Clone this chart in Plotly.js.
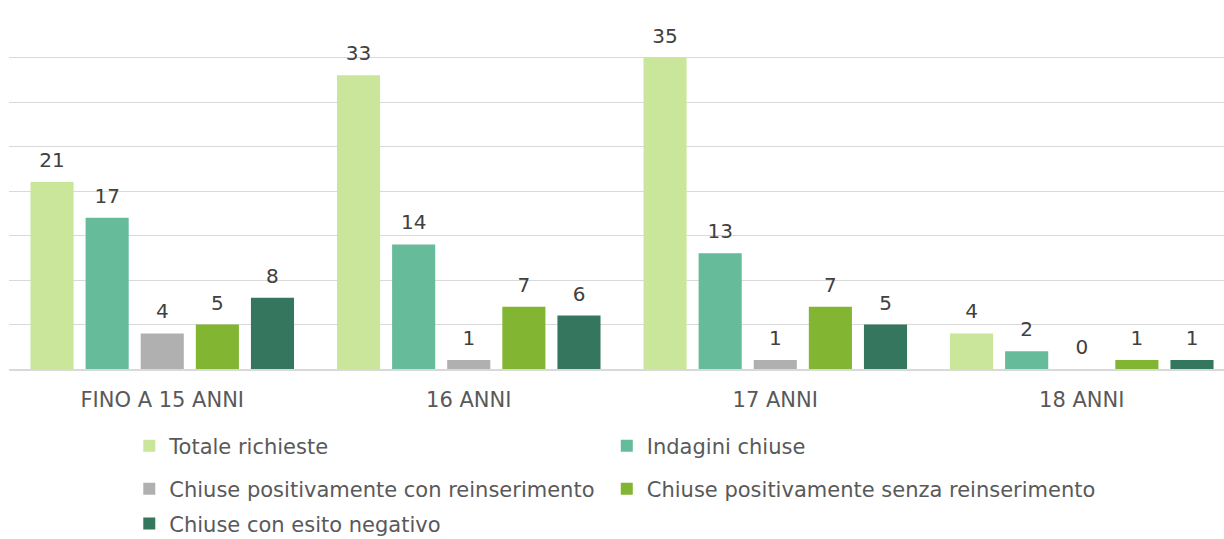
<!DOCTYPE html>
<html>
<head>
<meta charset="utf-8">
<script src="https://cdn.plot.ly/plotly-3.0.1.min.js"></script>
<style>
  body { margin: 0; background: #fff; }
  #plotArea { width: 1224px; height: 539px; }
</style>
</head>
<body>
<div id="plotArea"></div>
<script>
// fasce d'eta
var categories = ["FINO A 15 ANNI", "16 ANNI", "17 ANNI", "18 ANNI"];

// valori per serie
var totaleRichieste = [21, 33, 35, 4];
var indaginiChiuse = [17, 14, 13, 2];
var positiveConReins = [4, 1, 1, 0];
var positiveSenzaReins = [5, 7, 7, 1];
var esitoNegativo = [8, 6, 5, 1];

var seriesNames = [
    "Totale richieste",
    "Indagini chiuse",
    "Chiuse positivamente con reinserimento",
    "Chiuse positivamente senza reinserimento",
    "Chiuse con esito negativo"
];
var seriesValues = [totaleRichieste, indaginiChiuse, positiveConReins, positiveSenzaReins, esitoNegativo];
var colors = ["#c9e69b", "#66bb9a", "#b0b0b0", "#82b531", "#35775e"];

var fontName = "DejaVu Sans";

// a tall invisible space pushes the label up off the bar
var pad = '<span style="font-size:50px">\u00a0</span>';

var legendIds = ["legend", "legend2", "legend3", "legend4", "legend5"];

var data = seriesValues.map(function (vals, i) {
    return {
        x: categories,
        y: vals,
        name: seriesNames[i],
        type: "bar",
        marker: {color: colors[i]},
        text: vals.map(function (v) { return pad + v + pad; }),
        textposition: "outside",
        constraintext: "none",
        cliponaxis: false,
        textfont: {family: fontName, size: 20, color: "#404040"},
        legend: legendIds[i],
        hoverinfo: "x+y+name"
    };
});

// one small legend per entry, laid out in two columns
function legendAt(x, y) {
    return {
        orientation: "h",
        x: x,
        xanchor: "left",
        yref: "container",
        y: y,
        yanchor: "middle",
        font: {family: fontName, size: 21, color: "#595959"},
        bgcolor: "rgba(0,0,0,0)"
    };
}

var col1 = 0.099, col2 = 0.492;

var layout = {
    width: 1224,
    height: 539,
    margin: {l: 9, r: 0, t: 13, b: 170},
    paper_bgcolor: "#ffffff",
    plot_bgcolor: "#ffffff",
    barmode: "group",
    bargap: 0.101,
    bargroupgap: 0.218,
    showlegend: true,
    font: {family: fontName, color: "#595959"},
    xaxis: {
        range: [-0.5, 3.464],
        showline: true,
        linecolor: "#d9d9d9",
        linewidth: 1.5,
        ticks: "",
        ticklabelstandoff: 11,
        tickfont: {family: fontName, size: 21, color: "#595959"},
        fixedrange: true
    },
    yaxis: {
        range: [0, 40],
        dtick: 5,
        showticklabels: false,
        gridcolor: "#d9d9d9",
        gridwidth: 1,
        zeroline: false,
        fixedrange: true
    },
    legend: legendAt(col1, 0.1725),
    legend2: legendAt(col2, 0.1725),
    legend3: legendAt(col1, 0.0928),
    legend4: legendAt(col2, 0.0928),
    legend5: legendAt(col1, 0.028)
};

Plotly.newPlot("plotArea", data, layout, {displayModeBar: false});
</script>
</body>
</html>
